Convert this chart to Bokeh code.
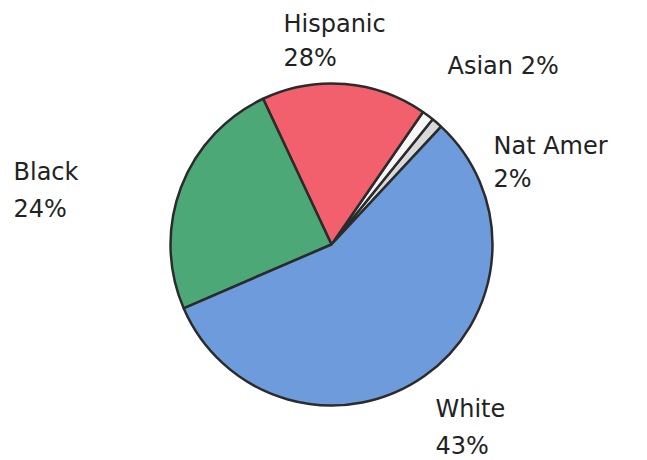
from bokeh.plotting import figure
from bokeh.models import ColumnDataSource, Range1d
from bokeh.core.properties import value
from bokeh.embed import file_html
from bokeh.resources import INLINE
import math

# Data (slice shares as drawn in the picture; printed labels as in the picture)
categories = ["Nat Amer", "Asian", "Hispanic", "Black", "White"]
slice_share = [1.1, 1.2, 16.6, 24.5, 56.6]
pct_labels = ["2%", "2%", "28%", "24%", "43%"]
colors = ["#d9d9d9", "#f7f7f7", "#f2606e", "#4da878", "#6e9bdc"]

W, H = 647, 460
p = figure(width=W, height=H, output_backend="svg", toolbar_location=None,
           x_range=Range1d(0, W), y_range=Range1d(0, H), min_border=0)
p.axis.visible = False
p.grid.visible = False
p.outline_line_color = None
p.background_fill_color = "white"
p.border_fill_color = "white"

total = sum(slice_share)
start0 = math.radians(47.1)
starts, ends = [], []
acc = start0
for v in slice_share:
    starts.append(acc)
    acc += v / total * 2 * math.pi
    ends.append(acc)

cx, cy, r = 331, H - 244, 161
src = ColumnDataSource(dict(cat=categories, start=starts, end=ends, color=colors))
p.wedge(x=cx, y=cy, radius=r, start_angle="start", end_angle="end",
        direction="anticlock", fill_color="color", line_color="#2b2b2b",
        line_width=2.5, source=src)

# Label layout (pixel positions of text baselines)
name_texts = ["Nat Amer", "Asian " + pct_labels[1], "Hispanic", "Black", "White"]
name_xy = [(493, 145), (447, 65), (283, 23), (13, 171), (435, 408)]
pct_texts = [pct_labels[0], None, pct_labels[2], pct_labels[3], pct_labels[4]]
pct_xy = [(493, 178), None, (283, 57), (13, 208), (435, 445)]

tx, ty, tt = [], [], []
for i in range(len(categories)):
    tx.append(name_xy[i][0]); ty.append(H - name_xy[i][1]); tt.append(name_texts[i])
    if pct_texts[i] is not None:
        tx.append(pct_xy[i][0]); ty.append(H - pct_xy[i][1]); tt.append(pct_texts[i])

p.text(x=tx, y=ty, text=tt, text_font=value("DejaVu Sans"),
       text_font_size="24px", text_color="#222222",
       text_align="left", text_baseline="alphabetic")

open("out.html", "w").write(file_html(p, INLINE))
